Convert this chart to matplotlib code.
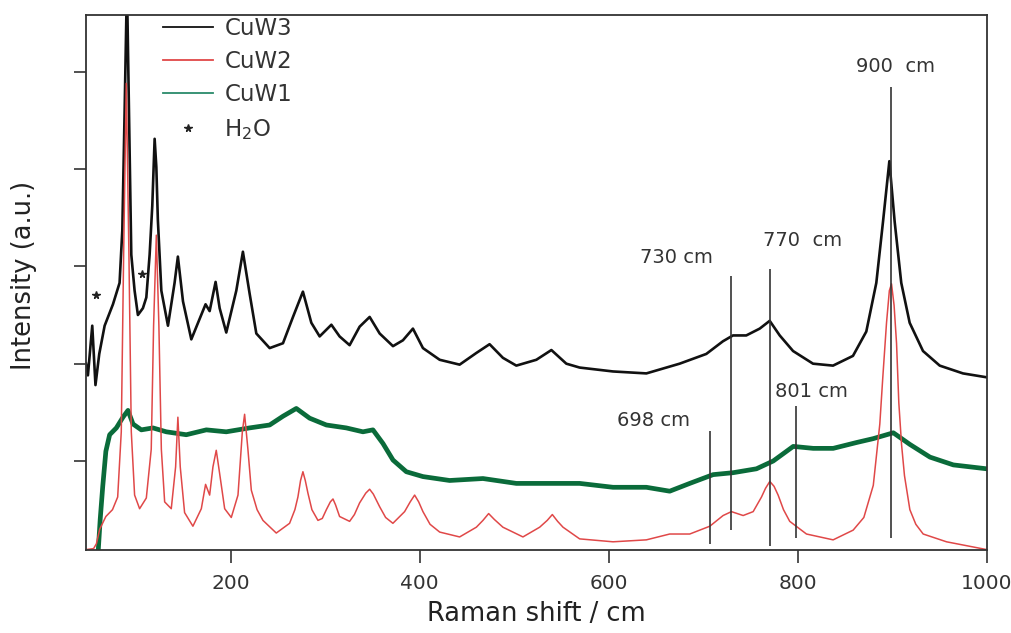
import matplotlib
matplotlib.use("Agg")
import matplotlib.pyplot as plt
from matplotlib.lines import Line2D

plt.rcParams['font.family'] = ['DejaVu Sans']

# CuW3 (black)
x_cuw3 = [47, 49, 53.6, 57, 61, 66.7, 75.5, 82.5, 85.4, 87.8, 90.3, 93.1, 94.9, 98.4, 101.9,
          107.2, 110.8, 114.3, 117.1, 119.6, 121.4, 123, 126.7, 133.7, 140.7, 144.2, 149.6,
          158.4, 167.2, 173.5, 177.8, 184.1, 188.4, 195.4, 206, 213, 220.1, 227.2, 241.3,
          255.4, 266, 276.5, 285.4, 294.2, 306.6, 315.3, 325.9, 336.5, 347.1, 357.7, 371.8,
          382.3, 392.9, 403.5, 421.2, 442.3, 460, 474, 488.1, 502.3, 523.5, 539.4, 555.2,
          569.3, 604.6, 639.9, 675.1, 703.3, 720.9, 731.5, 745.6, 759.8, 770.4, 781, 795.1,
          816.2, 837.4, 858.5, 872.6, 883.2, 890.3, 897, 902.6, 909.6, 918.5, 932.6, 950.3,
          974.9, 1000]
y_cuw3 = [2.0, 1.88, 2.39, 1.78, 2.1, 2.39, 2.61, 2.83, 3.37, 4.57, 5.9, 4.2, 3.12, 2.75, 2.5,
          2.57, 2.68, 3.12, 3.62, 4.31, 4.02, 3.48, 2.75, 2.39, 2.83, 3.1, 2.64,
          2.25, 2.46, 2.61, 2.54, 2.84, 2.57, 2.32, 2.75, 3.15, 2.72, 2.31, 2.16,
          2.21, 2.48, 2.74, 2.42, 2.28, 2.40, 2.28, 2.19, 2.38, 2.48, 2.31, 2.18,
          2.24, 2.36, 2.16, 2.04, 1.99, 2.11, 2.20, 2.06, 1.98, 2.04, 2.14, 2.00,
          1.96, 1.92, 1.90, 2.00, 2.10, 2.23, 2.29, 2.29, 2.36, 2.44, 2.29, 2.13,
          2.00, 1.98, 2.08, 2.33, 2.83, 3.46, 4.08, 3.46, 2.83, 2.42, 2.13, 1.98,
          1.90, 1.86]

# CuW2 (red)
x_cuw2 = [47, 55, 58, 61.5, 68, 75, 80.5, 84.3, 86.8, 89.6, 92.4, 94.9, 98.4, 103.7, 110.8,
          116, 118.5, 121.4, 124.1, 126.7, 130.2, 137.2, 141.8, 144.2, 146.7, 151.3, 160.1,
          169, 173.5, 177.8, 181.3, 184.8, 188.4, 193.7, 200.7, 207.8, 212.4, 214.8, 218.3,
          221.9, 228, 234.2, 248.3, 262.4, 268, 271.2, 274, 276.5, 279, 281.8, 286, 292.4,
          297, 301.3, 305.5, 308.3, 311, 315.3, 325.9, 331, 336.5, 343, 347.1, 351, 357.7,
          364, 371.7, 384.1, 390, 394.7, 399, 403.5, 411, 421.2, 442.3, 460, 467, 473, 479,
          488.1, 509.3, 527, 535, 540.4, 546, 551.7, 569.3, 604.6, 639.9, 664.6, 685.8, 707,
          721.1, 729.9, 742.3, 752.9, 761.7, 766, 770.5, 775, 779.3, 785, 791.6, 809.3,
          837.5, 858.7, 870, 880, 886.9, 890, 894, 897, 899.3, 902, 904.6, 907, 909.9, 913,
          918.7, 925, 932.8, 957.5, 1000]
y_cuw2 = [0.09, 0.1, 0.15, 0.3, 0.43, 0.5, 0.63, 1.3, 3.12, 4.88, 3.12, 1.3, 0.65, 0.51, 0.62,
          1.12, 2.39, 3.32, 2.39, 1.12, 0.58, 0.51, 0.94, 1.45, 0.94, 0.47, 0.33,
          0.51, 0.76, 0.65, 0.94, 1.11, 0.87, 0.51, 0.42, 0.65, 1.3, 1.48, 1.12,
          0.7, 0.5, 0.39, 0.26, 0.36, 0.5, 0.63, 0.8, 0.89, 0.8, 0.67, 0.5, 0.39,
          0.41, 0.50, 0.58, 0.61, 0.55, 0.43, 0.38, 0.45, 0.57, 0.67, 0.71, 0.66, 0.53,
          0.42, 0.36, 0.48, 0.58, 0.65, 0.58, 0.48, 0.35, 0.27, 0.22, 0.32, 0.39, 0.46, 0.40,
          0.32, 0.22, 0.32, 0.39, 0.45, 0.38, 0.32, 0.20, 0.17, 0.19, 0.25, 0.25, 0.33,
          0.44, 0.48, 0.44, 0.48, 0.63, 0.72, 0.79, 0.74, 0.65, 0.5, 0.38, 0.25,
          0.19, 0.29, 0.42, 0.75, 1.38, 1.85, 2.42, 2.75, 2.82, 2.6, 2.21, 1.6, 1.17, 0.85,
          0.50, 0.35, 0.25, 0.17, 0.09]

# CuW1 (green)
x_cuw1 = [60, 62, 64.7, 68, 72, 79.1, 86.1, 91.4, 96.7, 105.5, 117.8, 131.9, 153.1, 174.3,
          195.4, 220, 241.3, 255.4, 269.5, 283.6, 301.3, 322.4, 340, 350.6, 361.2, 371.8,
          385.9, 403.5, 431.7, 467, 502.3, 537.6, 569.3, 604.6, 639.9, 664.6, 685.8, 710.5,
          731.7, 756.4, 774.1, 795.3, 816.4, 837.6, 862.3, 880, 901.2, 918.8, 940, 964.7, 1000]
y_cuw1 = [0.09, 0.4, 0.74, 1.1, 1.27, 1.34, 1.45, 1.52, 1.38, 1.32, 1.34, 1.30, 1.27, 1.32,
          1.30, 1.34, 1.37, 1.46, 1.54, 1.44, 1.37, 1.34, 1.30, 1.32, 1.18, 1.01,
          0.89, 0.84, 0.80, 0.82, 0.77, 0.77, 0.77, 0.73, 0.73, 0.69, 0.77, 0.86,
          0.88, 0.92, 1.00, 1.15, 1.13, 1.13, 1.19, 1.23, 1.29, 1.17, 1.04, 0.96, 0.92]

# H2O stars
x_star = [57.8, 106.1]
y_star = [2.71, 2.92]

# marked bands: position, line bottom, line top, label, label x, label y
band_pos = [706.9, 729.1, 771.1, 798.6, 898.7]
band_lo = [0.15, 0.29, 0.13, 0.21, 0.21]
band_hi = [1.31, 2.90, 2.97, 1.57, 4.84]
band_txt = ["698 cm", "730 cm", "770  cm", "801 cm", "900  cm"]
band_tx = [647, 672, 805, 815, 904]
band_ty = [1.42, 3.09, 3.27, 1.71, 5.05]

fig = plt.figure(figsize=(10.12, 6.33), dpi=100)
ax = fig.add_axes([0.085, 0.131, 0.890, 0.845])

ax.plot(x_cuw1, y_cuw1, color='#0a6b3a', lw=3.4, solid_joinstyle='round')
ax.plot(x_cuw3, y_cuw3, color='#111111', lw=1.9)
ax.plot(x_cuw2, y_cuw2, color='#e04848', lw=1.1)
ax.plot(x_star, y_star, ls='none', marker='*', color='#222222', ms=5.5)

ax.vlines(band_pos, band_lo, band_hi, color='#333333', lw=1.2)
for t, tx, ty in zip(band_txt, band_tx, band_ty):
    ax.text(tx, ty, t, ha='center', va='center', fontsize=14, color='#333333')

ax.set_xlim(47, 1000)
ax.set_ylim(0.085, 5.58)
ax.set_xticks([200, 400, 600, 800, 1000])
ax.set_yticks([1, 2, 3, 4, 5])
ax.set_yticklabels([])
ax.tick_params(direction='out', length=9, width=1.2, labelsize=14.5, colors='#333333')
ax.tick_params(axis='x', pad=8)
for s in ax.spines.values():
    s.set_linewidth(1.3)
    s.set_color('#333333')

ax.set_xlabel("Raman shift / cm", fontsize=18.5, color='#222222')
ax.xaxis.set_label_coords(0.5, -0.095)
ax.set_ylabel("Intensity (a.u.)", fontsize=18.5, color='#222222')
ax.yaxis.set_label_coords(-0.054, 0.514)

handles = [Line2D([], [], color='#111111', lw=1.3),
           Line2D([], [], color='#e04848', lw=1.3),
           Line2D([], [], color='#2a8a6a', lw=1.3),
           Line2D([], [], ls='none', marker='*', color='#222222', ms=5.5)]
labels = ["CuW3", "CuW2", "CuW1", "H$_2$O"]
ax.legend(handles, labels, loc='upper left', bbox_to_anchor=(0.085, 0.997),
          frameon=False, fontsize=16.5, handlelength=2.2, handletextpad=0.5,
          labelspacing=0.45, borderpad=0, borderaxespad=0, labelcolor='#333333')

fig.savefig("out.png", dpi=100)
